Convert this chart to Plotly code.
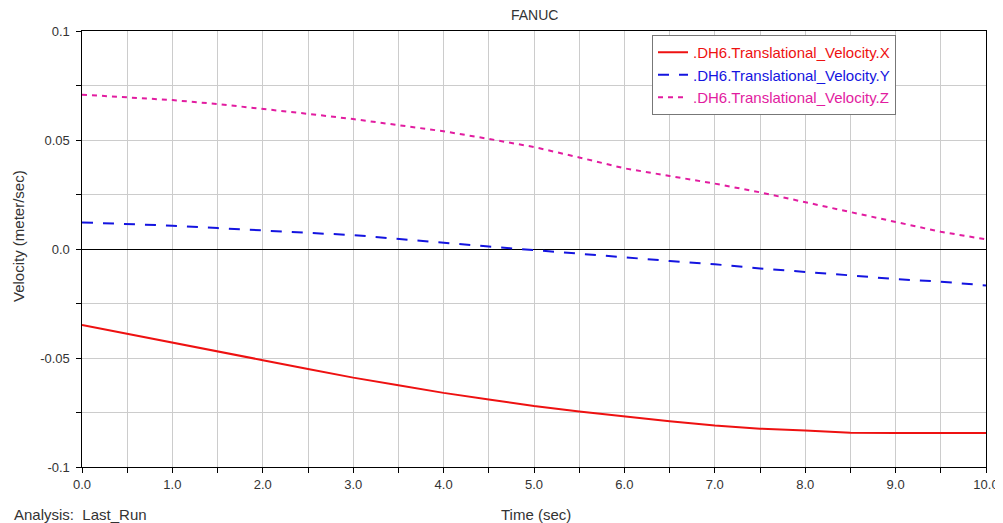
import plotly.graph_objects as go

time_s = [0.0, 0.5, 1.0, 1.5, 2.0, 2.5, 3.0, 3.5, 4.0, 4.5, 5.0,
          5.5, 6.0, 6.5, 7.0, 7.5, 8.0, 8.5, 9.0, 9.5, 10.0]
vel_x = [-0.0349, -0.0390, -0.0430, -0.0470, -0.0510, -0.0550, -0.0590, -0.0625,
         -0.0660, -0.0690, -0.0720, -0.0745, -0.0768, -0.0790, -0.0810, -0.0824,
         -0.0833, -0.0843, -0.0844, -0.0844, -0.0844]
vel_y = [0.0122, 0.0115, 0.0107, 0.0096, 0.0084, 0.0074, 0.0064, 0.0046, 0.0026,
         0.0011, -0.0005, -0.0020, -0.0038, -0.0055, -0.0070, -0.0089, -0.0104,
         -0.0121, -0.0138, -0.0150, -0.0167]
vel_z = [0.0708, 0.0694, 0.0683, 0.0665, 0.0644, 0.0620, 0.0596, 0.0568, 0.0540,
         0.0505, 0.0468, 0.0420, 0.0370, 0.0335, 0.0300, 0.0260, 0.0215, 0.0171,
         0.0125, 0.0079, 0.0044]

names = [".DH6.Translational_Velocity.X", ".DH6.Translational_Velocity.Y",
         ".DH6.Translational_Velocity.Z"]
colors = ["#ee1111", "#1414e0", "#e21ca0"]
dashes = ["solid", "11px,10px", "5px,5px"]

y_tickvals = [-0.1, -0.075, -0.05, -0.025, 0.0, 0.025, 0.05, 0.075, 0.1]
y_ticktext = ["-0.1", "", "-0.05", "", "0.0", "", "0.05", "", "0.1"]
x_tickvals = [i * 0.5 for i in range(21)]
x_ticktext = [f"{v:.1f}" if v == int(v) else "" for v in x_tickvals]

fig = go.Figure()
for ys, nm, c, d in zip([vel_x, vel_y, vel_z], names, colors, dashes):
    fig.add_trace(go.Scatter(
        x=time_s, y=ys, mode="lines",
        name=f"<span style='color:{c}'>{nm}</span>",
        line=dict(color=c, width=2, dash=d),
    ))

font = "Liberation Sans, Arial, sans-serif"
OFF = 8  # page body margin
W, H = 1003 - OFF, 523 - OFF
L, R, T, B = 82 - OFF, 17, 31 - OFF, 56
PW, PH = W - L - R, H - T - B


def px_x(px):
    return (px - OFF - L) / PW


def px_y(py):
    return (H - B - (py - OFF)) / PH


fig.update_layout(
    width=W, height=H,
    margin=dict(l=L, r=R, t=T, b=B, autoexpand=False),
    paper_bgcolor="white", plot_bgcolor="white",
    font=dict(family=font, size=13, color="#333333"),
    showlegend=True,
    legend=dict(x=px_x(652), y=px_y(35), xanchor="left", yanchor="top",
                bgcolor="white", bordercolor="#777777", borderwidth=1,
                font=dict(size=15), tracegroupgap=0),
    xaxis=dict(range=[0, 10], tickvals=x_tickvals, ticktext=x_ticktext,
               showgrid=True, gridcolor="#cccccc", gridwidth=1,
               showline=True, linecolor="black", linewidth=1, mirror=True,
               ticks="outside", ticklen=5, tickcolor="black",
               zeroline=False, automargin=False,
               tickfont=dict(size=13, color="#333333")),
    yaxis=dict(range=[-0.1, 0.1], tickvals=y_tickvals,
               ticktext=[t + "\u00a0" if t else t for t in y_ticktext],
               showgrid=True, gridcolor="#cccccc", gridwidth=1,
               showline=True, linecolor="black", linewidth=1, mirror=True,
               ticks="outside", ticklen=5, tickcolor="black",
               zeroline=True, zerolinecolor="black", zerolinewidth=1,
               automargin=False,
               tickfont=dict(size=13, color="#333333")),
    annotations=[
        dict(text="FANUC", xref="paper", yref="paper",
             x=px_x(534), y=px_y(15), xanchor="center", yanchor="middle",
             showarrow=False, font=dict(size=14, color="#333333")),
        dict(text="Time (sec)", xref="paper", yref="paper",
             x=px_x(536), y=px_y(514), xanchor="center", yanchor="middle",
             showarrow=False, font=dict(size=15, color="#333333")),
        dict(text="Velocity (meter/sec)", xref="paper", yref="paper",
             x=px_x(18), y=px_y(236), xanchor="center", yanchor="middle",
             textangle=-90, showarrow=False,
             font=dict(size=15, color="#333333")),
        dict(text="Analysis:  Last_Run", xref="paper", yref="paper",
             x=px_x(12), y=px_y(514), xanchor="left", yanchor="middle",
             showarrow=False, font=dict(size=15, color="#333333")),
    ],
)

fig.write_html("out.html")
